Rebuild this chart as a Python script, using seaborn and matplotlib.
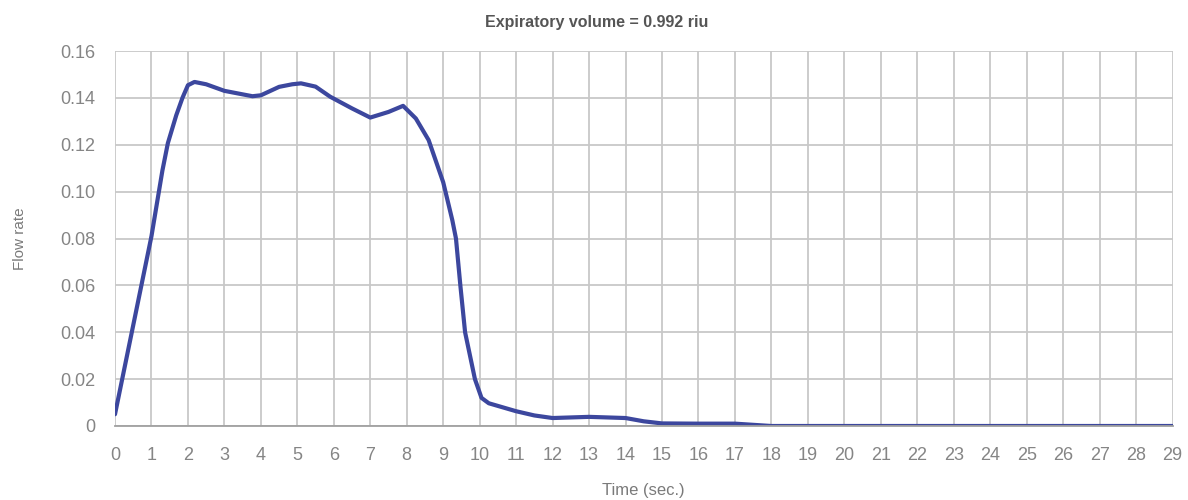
import pandas as pd
import matplotlib.pyplot as plt
import seaborn as sns

# values
time_sec = [0, 0.5, 1.0, 1.3, 1.45, 1.68, 1.85, 2.0, 2.18, 2.5, 3.0, 3.4, 3.77, 4.0,
            4.5, 4.86, 5.1, 5.5, 5.9, 6.5, 7.0, 7.5, 7.9, 8.25, 8.6, 9.0, 9.25, 9.35,
            9.47, 9.6, 9.87, 10.05, 10.25, 11.0, 11.5, 12.0, 13.0, 14.0, 14.5, 15.0,
            16.0, 17.0, 17.5, 18.0, 20.0, 22.0, 24.0, 26.0, 28.0, 29.0]
flow_rate = [0.005, 0.043, 0.081, 0.109, 0.1207, 0.1326, 0.14, 0.1454, 0.1468, 0.1458,
             0.143, 0.1418, 0.1407, 0.1411, 0.1447, 0.1458, 0.1462, 0.1448, 0.1405,
             0.1355, 0.1316, 0.134, 0.1366, 0.1312, 0.122, 0.104, 0.0878, 0.08,
             0.06, 0.04, 0.02, 0.012, 0.0097, 0.0063, 0.0045, 0.0034, 0.0039, 0.0034,
             0.002, 0.0011, 0.001, 0.001, 0.0005, 0.0, 0.0, 0.0, 0.0, 0.0, 0.0, 0.0]
x_ticks = list(range(0, 30))
y_ticks = [0, 0.02, 0.04, 0.06, 0.08, 0.10, 0.12, 0.14, 0.16]
y_labels = ['0', '0.02', '0.04', '0.06', '0.08', '0.10', '0.12', '0.14', '0.16']

df = pd.DataFrame({'Time': time_sec, 'Flow': flow_rate})

sns.set_style('white')
plt.rcParams['font.family'] = ['Liberation Sans', 'DejaVu Sans']

fig = plt.figure(figsize=(11.88, 5.0), dpi=100)
ax = fig.add_axes([0.0968, 0.148, 0.8902, 0.75])

sns.lineplot(data=df, x='Time', y='Flow', color='#3c479e', linewidth=3.0, ax=ax)
ax.lines[0].set_solid_joinstyle('round')
ax.lines[0].set_solid_capstyle('round')

ax.set_xlim(0, 29)
ax.set_ylim(0, 0.16)
ax.set_xticks(x_ticks)
ax.set_yticks(y_ticks)
ax.set_yticklabels(y_labels)
ax.grid(True, color='#c8c8c8', linewidth=1.3)
ax.set_axisbelow(True)
for s in ['top', 'right', 'left']:
    ax.spines[s].set_visible(False)
ax.spines['bottom'].set_color('#a0a0a0')
ax.spines['bottom'].set_linewidth(1.3)
ax.tick_params(axis='both', colors='#c8c8c8', labelcolor='#858585', labelsize=13,
               length=12, width=1.3)
ax.tick_params(axis='x', pad=3)
ax.tick_params(axis='y', pad=2)

ax.set_xlabel('Time (sec.)', color='#7a7a7a', fontsize=12, labelpad=14)
ax.set_ylabel('Flow rate', color='#7a7a7a', fontsize=11, labelpad=24)
fig.text(0.502, 0.955, 'Expiratory volume = 0.992 riu', color='#555555', fontsize=11.5,
         fontweight='bold', ha='center', va='center')

fig.savefig('out.png', dpi=100)
